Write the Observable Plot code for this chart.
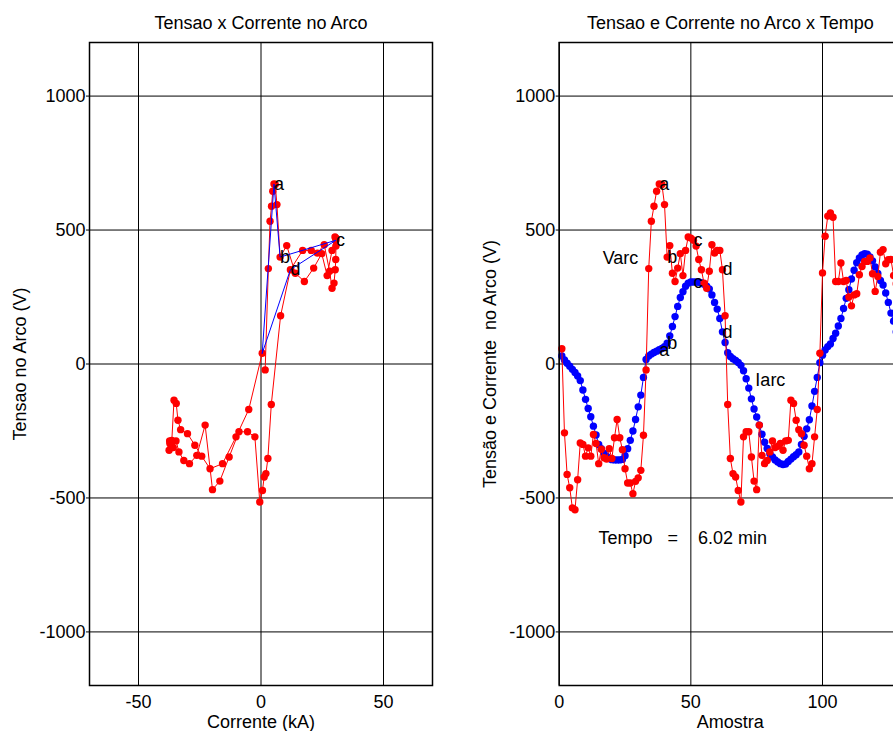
<!DOCTYPE html>
<html><head><meta charset="utf-8">
<script src="https://cdn.jsdelivr.net/npm/d3@7"></script>
<script src="https://cdn.jsdelivr.net/npm/@observablehq/plot@0.6"></script>
<style>
html,body{margin:0;padding:0;background:#fff;overflow:hidden;}
#wrap{position:relative;width:893px;height:731px;overflow:hidden;background:#fff;}
#wrap svg{position:absolute;top:0;}
</style></head><body><div id="wrap"></div>
<script>
// Arc voltage (V), samples 1..128
const varc = [
  57, -257, -412, -462, -537, -544, -432, -295, -300, -344,
  -313, -344, -263, -297, -372, -318, -350, -355, -316, -353,
  -275, -207, -275, -320, -391, -444, -444, -484, -438, -425,
  -397, -266, -22, 356, 533, 589, 645, 672, 670, 595,
  399, 442, 339, 308, 358, 412, 330, 424, 474, 470,
  462, 440, 390, 352, 302, 283, 346, 445, 414, 424,
  424, 352, 180, -151, -353, -409, -422, -472, -515, -272,
  -253, -253, -347, -437, -469, -228, -341, -372, -360, -328,
  -287, -312, -307, -297, -322, -287, -285, -135, -147, -210,
  -245, -260, -303, -344, -391, -372, -272, -170, 40, 340,
  477, 552, 564, 548, 308, 308, 377, 308, 312, 250,
  217, 258, 262, 333, 364, 383, 383, 396, 337, 271,
  327, 417, 427, 374, 389, 390, 330, 300
];
// Arc current, plotted x10 (kA*10), samples 1..128
const iarc = [
  30, 15, 3, -8, -20, -32, -45, -62, -97, -132,
  -166, -197, -232, -265, -300, -316, -334, -344, -353, -357,
  -358, -358, -358, -356, -342, -316, -285, -250, -207, -160,
  -116, -50, 17, 30, 37, 43, 48, 53, 58, 65,
  78, 105, 140, 177, 215, 248, 270, 290, 302, 306,
  306, 306, 305, 303, 298, 290, 280, 258, 230, 205,
  170, 120, 80, 42, 28, 20, 13, 6, -5, -25,
  -55, -90, -130, -168, -198, -228, -262, -292, -315, -335,
  -347, -358, -366, -372, -375, -373, -364, -355, -346, -339,
  -328, -300, -270, -242, -208, -157, -102, -50, 5, 33,
  52, 65, 75, 95, 115, 142, 170, 207, 245, 277,
  317, 350, 378, 396, 407, 412, 410, 400, 385, 362,
  338, 312, 295, 265, 230, 190, 160, 120
];
const currentScale = 10;            // Iarc plotted as kA * 10
const loopFrom = 33, loopTo = 99;   // samples shown in V x I plane
const keyNames = ["a", "b", "c", "d"];
const keyIdx = [38, 41, 51, 62];
const polyIdx = [99, 38, 41, 51, 62, 99];
const annotations = [
  {text: "Varc", x: 16.5, y: 395},
  {text: "Iarc", x: 74.5, y: -60},
  {text: "Tempo\u00a0\u00a0\u00a0=\u00a0\u00a0\u00a0\u00a06.02 min", x: 14.9, y: -652}
];
const xTicksLeft = [-50, 0, 50];
const xTicksRight = [0, 50, 100];
const yTicks = [-1000, -500, 0, 500, 1000];
const titleLeft = "Tensao x Corrente no Arco";
const titleRight = "Tensao e Corrente no Arco x Tempo";
const xLabelLeft = "Corrente (kA)";
const xLabelRight = "Amostra";
const yLabelLeft = "Tensao no Arco (V)";
const yLabelRight = "Tens\u00e3o e Corrente\u00a0\u00a0no Arco (V)";

const rows = varc.map((v, k) => ({s: k + 1, v, i: iarc[k], ka: iarc[k] / currentScale}));
const byS = s => rows[s - 1];
const loop = rows.filter(r => r.s >= loopFrom && r.s <= loopTo);
const keys = keyIdx.map((s, k) => ({...byS(s), name: keyNames[k]}));
const poly = polyIdx.map(byS);

const FS = 18;
const font = "'Liberation Sans', Arial, Helvetica, sans-serif";
const style = {fontFamily: font, fontSize: FS + "px", background: "transparent", color: "black", overflow: "visible"};
const fmt = d => String(d);

function common(xTicks, title, xLabel, yLabel) {
  return [
    Plot.gridX(xTicks, {stroke: "black", strokeOpacity: 1, strokeWidth: 1}),
    Plot.gridY(yTicks, {stroke: "black", strokeOpacity: 1, strokeWidth: 1}),
    Plot.axisY(yTicks, {tickSize: 3, tickPadding: 1, tickFormat: fmt, label: null, fontSize: FS}),
    Plot.axisX(xTicks, {tickSize: 0, tickPadding: 10, tickFormat: fmt, label: null, fontSize: FS}),
    Plot.text([title], {frameAnchor: "top", lineAnchor: "middle", textAnchor: "middle", dy: -19, fontSize: FS, fill: "black"}),
    Plot.text([xLabel], {frameAnchor: "bottom", lineAnchor: "middle", textAnchor: "middle", dy: 36.5, fontSize: FS, fill: "black"}),
    Plot.text([yLabel], {frameAnchor: "left", lineAnchor: "middle", textAnchor: "middle", dx: -69, rotate: -90, fontSize: FS, fill: "black"})
  ];
}

const left = Plot.plot({
  width: 440, height: 731, marginLeft: 89, marginRight: 8, marginTop: 42, marginBottom: 46,
  style,
  x: {domain: [-70, 70]},
  y: {domain: [-1200, 1200]},
  marks: [
    ...common(xTicksLeft, titleLeft, xLabelLeft, yLabelLeft),
    Plot.line(loop, {x: "ka", y: "v", stroke: "#ff0000", strokeWidth: 1}),
    Plot.dot(loop, {x: "ka", y: "v", fill: "#ff0000", r: 3.7, stroke: "none"}),
    Plot.line(poly, {x: "ka", y: "v", stroke: "#0000ff", strokeWidth: 1}),
    Plot.text(keys, {x: "ka", y: "v", text: "name", textAnchor: "start", lineAnchor: "middle", fontSize: FS, fill: "black"}),
    Plot.frame({stroke: "black", strokeWidth: 1.5})
  ]
});
left.style.left = "0px";

const right = Plot.plot({
  width: 439, height: 731, marginLeft: 88.7, marginRight: 8, marginTop: 42, marginBottom: 46,
  style,
  x: {domain: [0, 130]},
  y: {domain: [-1200, 1200]},
  marks: [
    ...common(xTicksRight, titleRight, xLabelRight, yLabelRight),
    Plot.line(rows, {x: "s", y: "i", stroke: "#0000ff", strokeWidth: 1}),
    Plot.dot(rows, {x: "s", y: "i", fill: "#0000ff", r: 3.7, stroke: "none"}),
    Plot.line(rows, {x: "s", y: "v", stroke: "#ff0000", strokeWidth: 1}),
    Plot.dot(rows, {x: "s", y: "v", fill: "#ff0000", r: 3.7, stroke: "none"}),
    Plot.text(keys, {x: "s", y: "v", text: "name", textAnchor: "start", lineAnchor: "middle", fontSize: FS, fill: "black"}),
    Plot.text(keys, {x: "s", y: "i", text: "name", textAnchor: "start", lineAnchor: "middle", fontSize: FS, fill: "black"}),
    Plot.text(annotations, {x: "x", y: "y", text: "text", textAnchor: "start", lineAnchor: "middle", fontSize: FS, fill: "black"}),
    Plot.frame({stroke: "black", strokeWidth: 1.5})
  ]
});
right.style.left = "470px";

const wrap = document.getElementById("wrap");
wrap.appendChild(left);
wrap.appendChild(right);
</script></body></html>
